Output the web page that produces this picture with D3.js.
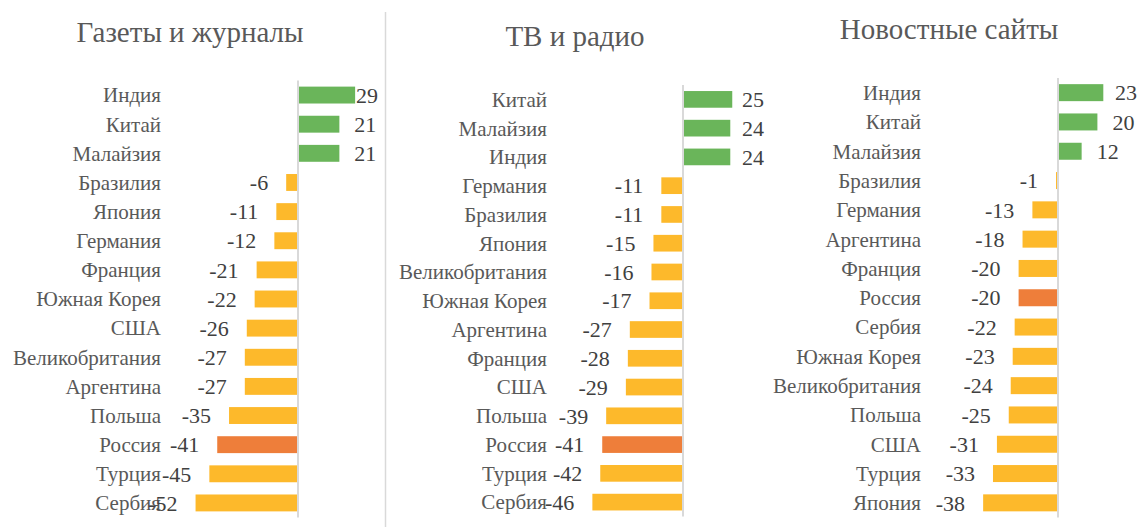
<!DOCTYPE html>
<html lang="ru">
  <head>
    <meta charset="utf-8"/>
    <script src="https://d3js.org/d3.v7.min.js"></script>
    <title>Доверие к СМИ</title>
  </head>
  <body>
    <div id="chart"></div>
  </body>
</html>

<style>
  body { margin: 0; background: #fff; }
  text { font-family: "Liberation Serif", "Times New Roman", serif; }
</style>

<script>
  const width = 1140;
  const height = 527;

  // данные
  const paperCountries = ["Индия", "Китай", "Малайзия", "Бразилия", "Япония", "Германия", "Франция",
    "Южная Корея", "США", "Великобритания", "Аргентина", "Польша", "Россия", "Турция", "Сербия"];
  const paperValues = [29, 21, 21, -6, -11, -12, -21, -22, -26, -27, -27, -35, -41, -45, -52];

  const tvCountries = ["Китай", "Малайзия", "Индия", "Германия", "Бразилия", "Япония", "Великобритания",
    "Южная Корея", "Аргентина", "Франция", "США", "Польша", "Россия", "Турция", "Сербия"];
  const tvValues = [25, 24, 24, -11, -11, -15, -16, -17, -27, -28, -29, -39, -41, -42, -46];

  const webCountries = ["Индия", "Китай", "Малайзия", "Бразилия", "Германия", "Аргентина", "Франция",
    "Россия", "Сербия", "Южная Корея", "Великобритания", "Польша", "США", "Турция", "Япония"];
  const webValues = [23, 20, 12, -1, -13, -18, -20, -20, -22, -23, -24, -25, -31, -33, -38];

  const titles = ["Газеты и журналы", "ТВ и радио", "Новостные сайты"];

  const colPos = "#6ab55a";
  const colNeg = "#fdb92b";
  const colRus = "#ee7e3a";

  // положение панелей
  const panels = [
    {title: titles[0], cats: paperCountries, vals: paperValues, axisX: 298, y0: 80.5, y1: 517.5, labelX: 161, clampX: 378, titleX: 190, titleY: 42},
    {title: titles[1], cats: tvCountries, vals: tvValues, axisX: 683, y0: 85, y1: 516.5, labelX: 547, clampX: 764, titleX: 575, titleY: 46},
    {title: titles[2], cats: webCountries, vals: webValues, axisX: 1058, y0: 78, y1: 517.5, labelX: 921, clampX: 1137, titleX: 949, titleY: 39}
  ];
  const pxPerUnit = 1.97;

  const svg = d3.select("#chart").append("svg")
    .attr("width", width)
    .attr("height", height);

  // разделитель
  svg.append("line")
    .attr("x1", 385.5).attr("x2", 385.5)
    .attr("y1", 12).attr("y2", height)
    .attr("stroke", "#d9d9d9")
    .attr("stroke-width", 1.5);

  panels.forEach((p) => {
    const data = p.cats.map((c, i) => ({name: c, value: p.vals[i]}));

    const x = d3.scaleLinear()
      .domain([-60, 40])
      .range([p.axisX - 60 * pxPerUnit, p.axisX + 40 * pxPerUnit]);

    const y = d3.scaleBand()
      .domain(p.cats)
      .range([p.y0, p.y1])
      .paddingInner(0.42)
      .paddingOuter(0.21);

    const g = svg.append("g");

    g.append("text")
      .attr("x", p.titleX)
      .attr("y", p.titleY)
      .attr("text-anchor", "middle")
      .attr("fill", "#595959")
      .style("font-size", "29px")
      .text(p.title);

    g.selectAll("rect")
      .data(data)
      .enter()
      .append("rect")
      .attr("x", (d) => x(Math.min(0, d.value)))
      .attr("y", (d) => y(d.name))
      .attr("width", (d) => Math.abs(x(d.value) - x(0)))
      .attr("height", y.bandwidth())
      .attr("fill", (d) => d.name === "Россия" ? colRus : (d.value > 0 ? colPos : colNeg));

    g.append("line")
      .attr("x1", x(0)).attr("x2", x(0))
      .attr("y1", p.y0).attr("y2", p.y1)
      .attr("stroke", "#d9d9d9")
      .attr("stroke-width", 2);

    g.selectAll(".cat")
      .data(data)
      .enter()
      .append("text")
      .attr("class", "cat")
      .attr("x", p.labelX)
      .attr("y", (d) => y(d.name) + y.bandwidth() / 2)
      .attr("dy", "0.35em")
      .attr("text-anchor", "end")
      .attr("fill", "#595959")
      .style("font-size", "21px")
      .text((d) => d.name);

    g.selectAll(".val")
      .data(data)
      .enter()
      .append("text")
      .attr("class", "val")
      .attr("y", (d) => y(d.name) + y.bandwidth() / 2)
      .attr("dy", "0.35em")
      .attr("fill", "#404040")
      .style("font-size", "22px")
      .text((d) => d.value)
      .each(function (d) {
        const w = this.getComputedTextLength();
        if (d.value > 0) {
          d3.select(this).attr("x", Math.min(x(d.value) + 15, p.clampX - w));
        } else {
          d3.select(this).attr("x", x(d.value) - 18 - w);
        }
      });
  });
</script>
